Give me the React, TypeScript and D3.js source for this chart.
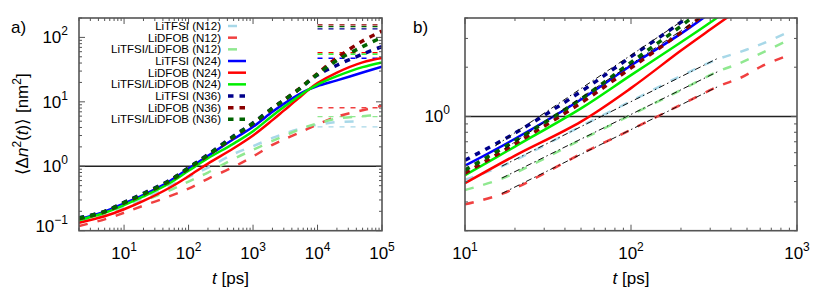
import React from 'react';
import * as d3 from 'd3';

// ---------- data (left panel a) ----------
const tLeft = [2, 5, 10, 20, 50, 100, 200, 500, 1000, 2000, 3000, 5000, 7000, 1e4, 2e4, 5e4, 1e5];
const n12TfsiL = [0.145, 0.185, 0.24, 0.32, 0.49, 0.68, 0.95, 1.55, 2.05, 2.75, 3.2, 3.75, 4.1, 4.4, 4.85, 5.0, null];
const n12DfobL = [0.118, 0.15, 0.19, 0.245, 0.34, 0.45, 0.64, 0.98, 1.42, 2.15, 2.6, 3.25, 3.8, 4.45, 5.9, 7.4, 8.7];
const n12MixL = [0.135, 0.172, 0.22, 0.29, 0.42, 0.58, 0.8, 1.3, 1.8, 2.47, 2.95, 3.65, 4.15, 4.6, 5.5, 6.0, 6.3];
const n24TfsiL = [0.152, 0.198, 0.265, 0.36, 0.58, 0.92, 1.45, 2.65, 4.1, 7.0, 9.3, 12.8, 15.3, 17.6, 21.5, 28.5, 35];
const n24DfobL = [0.133, 0.168, 0.215, 0.29, 0.46, 0.7, 1.1, 1.9, 3.0, 5.2, 7.3, 11.2, 15.0, 19.5, 28.5, 41, 48];
const n24MixL = [0.146, 0.19, 0.25, 0.34, 0.54, 0.85, 1.33, 2.25, 3.5, 6.1, 8.3, 12.0, 15.1, 18.5, 25, 34.5, 41];
const n36TfsiL = [0.158, 0.2, 0.275, 0.38, 0.6, 0.95, 1.52, 2.95, 4.7, 8.0, 10.6, 15.3, 20, 26, 37, 55, 72];
const n36DfobL = [0.154, 0.196, 0.27, 0.37, 0.585, 0.93, 1.48, 2.85, 4.6, 7.9, 10.6, 15.4, 20.5, 27.5, 48, 88, 125];
const n36MixL = [0.156, 0.198, 0.272, 0.375, 0.59, 0.94, 1.5, 2.9, 4.65, 7.95, 10.6, 15.3, 20.2, 26.8, 44, 72, 100];

// plateau levels (t from 1e4 to 1e5): order TFSI, DFOB, Mix
const plateauT = [1e4, 1e5];
const plateauN12 = [4.1, 8.1, 5.9];
const plateauN24 = [47.5, 58, 55];
const plateauN36 = [136, 156, 147];

// ---------- data (right panel b) ----------
const tRight = [10, 20, 50, 100, 200, 300, 500];
const n24TfsiR = [0.5, 0.73, 1.27, 2.05, 3.21, 4.3, 6.3];
const n24DfobR = [0.39, 0.576, 0.93, 1.49, 2.53, 3.4, 4.9];
const n24MixR = [0.437, 0.654, 1.12, 1.79, 2.84, 3.75, 5.5];
const n36TfsiR = [0.54, 0.79, 1.42, 2.32, 3.77, 5.2, 7.5];
const n36DfobR = [0.45, 0.68, 1.21, 1.98, 3.26, 4.5, 6.6];
const n36MixR = [0.47, 0.71, 1.28, 2.14, 3.57, 4.9, 7.2];
const tRight12 = [10, 17, 50, 100, 200, 337, 455, 615, 870];
const n12TfsiR = [0.41, 0.5, 0.87, 1.24, 1.77, 2.25, 2.48, 2.78, 3.25];
const n12DfobR = [0.29, 0.338, 0.59, 0.83, 1.18, 1.53, 1.72, 2.03, 2.35];
const n12MixR = [0.355, 0.42, 0.72, 1.02, 1.45, 1.89, 2.12, 2.45, 2.9];
// power-law fits (start/end)
const fitT = [[16.7, 337], [16.7, 337], [16.7, 337], [15.2, 216], [17.4, 260]];
const fitV = [[0.497, 2.28], [0.338, 1.53], [0.42, 1.89], [0.66, 4.0], [0.635, 4.0]];

const labels = ['LiTFSI', 'LiDFOB', 'LiTFSI/LiDFOB'];
const groups = ['N12', 'N24', 'N36'];

const colors: Record<string, string[]> = {
  N12: ['#a8d8e8', '#f04040', '#90e890'],
  N24: ['#0000ff', '#ff0000', '#00ee00'],
  N36: ['#00008b', '#8b0000', '#006400'],
};
const styles: Record<string, { dash: string; w: number }> = {
  N12: { dash: '9,10', w: 2.5 },
  N24: { dash: '', w: 2.5 },
  N36: { dash: '5.5,6', w: 3.5 },
};

const FONT = '"Liberation Sans", Arial, Helvetica, sans-serif';
const FRAME = '#555';

const L = { x0: 79, x1: 382, y0: 18, y1: 230.7 };
const R = { x0: 465, x1: 797, y0: 18, y1: 230.7 };

function Pow10({ x, y, exp, anchor }: { x: number; y: number; exp: number; anchor: string }) {
  return (
    <text x={x} y={y} fontFamily={FONT} fontSize={17} textAnchor={anchor} fill="#000">
      <tspan>10</tspan>
      <tspan dy={-8} fontSize={12}>{String(exp).replace('-', '\u2212')}</tspan>
    </text>
  );
}

function Axes({ box, xs, ys, yLabOff }: any) {
  const xt: number[] = xs.ticks();
  const yt: number[] = ys.ticks();
  const isMaj = (v: number) => Math.abs(Math.log10(v) - Math.round(Math.log10(v))) < 1e-9;
  const els: any[] = [];
  xt.forEach((v, i) => {
    const x = xs(v);
    if (x < box.x0 - 0.5 || x > box.x1 + 0.5) return;
    const len = isMaj(v) ? 6 : 3;
    els.push(<line key={'xb' + i} x1={x} x2={x} y1={box.y1} y2={box.y1 - len} stroke={FRAME} strokeWidth={1} />);
    els.push(<line key={'xt' + i} x1={x} x2={x} y1={box.y0} y2={box.y0 + len} stroke={FRAME} strokeWidth={1} />);
    if (isMaj(v)) els.push(<Pow10 key={'xl' + i} x={x} y={259} exp={Math.round(Math.log10(v))} anchor="middle" />);
  });
  yt.forEach((v, i) => {
    const y = ys(v);
    if (y < box.y0 - 0.5 || y > box.y1 + 0.5) return;
    const len = isMaj(v) ? 6 : 3;
    els.push(<line key={'yl' + i} x1={box.x0} x2={box.x0 + len} y1={y} y2={y} stroke={FRAME} strokeWidth={1} />);
    els.push(<line key={'yr' + i} x1={box.x1} x2={box.x1 - len} y1={y} y2={y} stroke={FRAME} strokeWidth={1} />);
    if (isMaj(v)) {
      const by = y + 6 - (Math.abs(y - box.y1) < 2 ? 5 : 0);
      els.push(<Pow10 key={'ylab' + i} x={box.x0 - yLabOff} y={by} exp={Math.round(Math.log10(v))} anchor="end" />);
    }
  });
  return <g>{els}</g>;
}

export default function App() {
  const xL = d3.scaleLog().domain([2, 1e5]).range([L.x0, L.x1]);
  const yL = d3.scaleLog().domain([0.1, 200]).range([L.y1, L.y0]);
  const xR = d3.scaleLog().domain([10, 1000]).range([R.x0, R.x1]);
  const yR = d3.scaleLog().domain([0.2, 4]).range([R.y1, R.y0]);

  const mkLine = (xs: any, ys: any, ts: number[]) =>
    d3.line<any>()
      .defined((d) => d != null)
      .x((_d, i) => xs(ts[i]))
      .y((d) => ys(d))
      .curve(d3.curveCatmullRom.alpha(0.5));

  const leftData: Record<string, (number | null)[][]> = {
    N12: [n12TfsiL, n12DfobL, n12MixL],
    N24: [n24TfsiL, n24DfobL, n24MixL],
    N36: [n36TfsiL, n36DfobL, n36MixL],
  };
  const plateaus: Record<string, number[]> = { N12: plateauN12, N24: plateauN24, N36: plateauN36 };
  const rightData: Record<string, number[][]> = {
    N12: [n12TfsiR, n12DfobR, n12MixR],
    N24: [n24TfsiR, n24DfobR, n24MixR],
    N36: [n36TfsiR, n36DfobR, n36MixR],
  };
  const rightT: Record<string, number[]> = { N12: tRight12, N24: tRight, N36: tRight };

  const lineL = mkLine(xL, yL, tLeft);

  return (
    <svg width={830} height={291} style={{ position: 'absolute', left: 0, top: 0, background: '#fff' }}>
      <defs>
        <clipPath id="clipL"><rect x={L.x0} y={L.y0} width={L.x1 - L.x0} height={L.y1 - L.y0} /></clipPath>
        <clipPath id="clipR"><rect x={R.x0} y={R.y0} width={R.x1 - R.x0} height={R.y1 - R.y0} /></clipPath>
      </defs>
      <rect x={0} y={0} width={830} height={291} fill="#fff" />

      {/* ---------- panel a ---------- */}
      <g clipPath="url(#clipL)">
        <line x1={L.x0} x2={L.x1} y1={yL(1)} y2={yL(1)} stroke="#222" strokeWidth={1.5} />
        {groups.map((g) =>
          plateaus[g].map((v, k) => (
            <line key={'p' + g + k} x1={xL(plateauT[0])} x2={xL(plateauT[1])} y1={yL(v)} y2={yL(v)}
              stroke={colors[g][k]} strokeWidth={1.3} strokeDasharray="5,6" />
          ))
        )}
        {groups.map((g) =>
          leftData[g].map((arr, k) => (
            <path key={'l' + g + k} d={lineL(arr) || ''} fill="none" stroke={colors[g][k]}
              strokeWidth={styles[g].w} strokeDasharray={styles[g].dash} />
          ))
        )}
      </g>
      <rect x={L.x0} y={L.y0} width={L.x1 - L.x0} height={L.y1 - L.y0} fill="none" stroke={FRAME} strokeWidth={1.6} />
      <Axes box={L} xs={xL} ys={yL} yLabOff={11} />

      {/* legend */}
      {groups.map((g, gi) =>
        labels.map((lab, k) => {
          const i = gi * 3 + k;
          const y = 26 + i * 11.67;
          return (
            <g key={'lg' + i}>
              <text x={221} y={y + 4} textAnchor="end" fontFamily={FONT} fontSize={11.5} fill="#000">
                {lab} ({g})
              </text>
              <line x1={228} x2={246} y1={y} y2={y} stroke={colors[g][k]} strokeWidth={styles[g].w}
                strokeDasharray={styles[g].dash} />
            </g>
          );
        })
      )}

      {/* ---------- panel b ---------- */}
      <g clipPath="url(#clipR)">
        <line x1={R.x0} x2={R.x1} y1={yR(1)} y2={yR(1)} stroke="#222" strokeWidth={1.5} />
        {groups.map((g) =>
          rightData[g].map((arr, k) => (
            <path key={'r' + g + k} d={mkLine(xR, yR, rightT[g])(arr) || ''} fill="none" stroke={colors[g][k]}
              strokeWidth={styles[g].w} strokeDasharray={styles[g].dash} />
          ))
        )}
        {fitT.map((ts, i) => (
          <line key={'f' + i} x1={xR(ts[0])} x2={xR(ts[1])} y1={yR(fitV[i][0])} y2={yR(fitV[i][1])}
            stroke="#111" strokeWidth={1} strokeDasharray="6,3,1.5,3" />
        ))}
      </g>
      <rect x={R.x0} y={R.y0} width={R.x1 - R.x0} height={R.y1 - R.y0} fill="none" stroke={FRAME} strokeWidth={1.6} />
      <Axes box={R} xs={xR} ys={yR} yLabOff={15} />

      {/* labels */}
      <text x={11} y={33} fontFamily={FONT} fontSize={17}>a)</text>
      <text x={413} y={33} fontFamily={FONT} fontSize={17}>b)</text>
      <text x={(L.x0 + L.x1) / 2} y={284} textAnchor="middle" fontFamily={FONT} fontSize={17}>
        <tspan fontStyle="italic">t</tspan> [ps]
      </text>
      <text x={(R.x0 + R.x1) / 2} y={284} textAnchor="middle" fontFamily={FONT} fontSize={17}>
        <tspan fontStyle="italic">t</tspan> [ps]
      </text>
      <text transform={`translate(28,${(L.y0 + L.y1) / 2}) rotate(-90)`} textAnchor="middle" fontFamily={FONT} fontSize={17}>
        <tspan>{'\u27E8\u0394'}</tspan>
        <tspan fontStyle="italic">n</tspan>
        <tspan dy={-7} fontSize={12}>2</tspan>
        <tspan dy={7}>(</tspan>
        <tspan fontStyle="italic">t</tspan>
        <tspan>{')\u27E9 [nm'}</tspan>
        <tspan dy={-7} fontSize={12}>2</tspan>
        <tspan dy={7}>]</tspan>
      </text>
    </svg>
  );
}
